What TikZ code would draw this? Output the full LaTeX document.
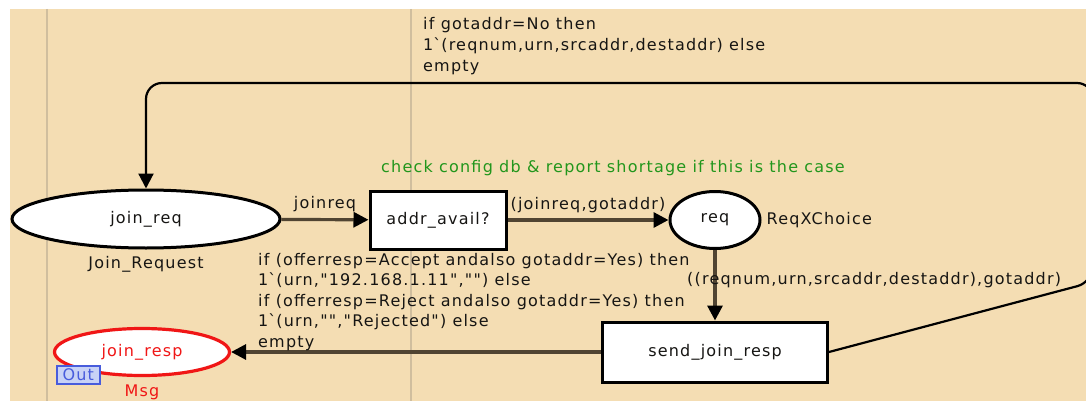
\documentclass[tikz,border=0pt]{standalone}
\usepackage{fontspec}
\newfontfamily\cpnfont{DejaVu Sans}[LetterSpace=7.5]
\usepackage{tikz}
\usetikzlibrary{
  positioning,
  arrows.meta,
  shapes.geometric
}
\definecolor{cpnbg}{RGB}{244,221,179}
\definecolor{cpnrule}{RGB}{208,190,158}
\definecolor{cpnink}{RGB}{22,21,19}
\definecolor{cpnarc}{RGB}{80,68,50}
\definecolor{cpngreen}{RGB}{34,150,28}
\definecolor{cpnred}{RGB}{240,22,22}
\definecolor{cpnblue}{RGB}{72,92,220}
\definecolor{cpnbluefill}{RGB}{200,210,246}

\begin{document}
\begin{tikzpicture}[x=1pt,y=-1pt,
    >={Triangle[length=15pt,width=15pt,color=black]},
    font=\cpnfont\fontsize{16}{21}\selectfont]
  \tikzset{
    place/.style={ellipse,draw=black,line width=3pt,fill=white,
      text=cpnink,inner sep=0pt},
    trans/.style={rectangle,draw=black,line width=3pt,fill=white,
      text=cpnink,inner sep=0pt},
    arc/.style={->,line width=3.2pt,draw=cpnarc},
    inscr/.style={text=cpnink,inner sep=0pt,align=left},
    outtag/.style={draw=cpnblue,fill=cpnbluefill,text=cpnblue,
      line width=1.6pt,inner sep=0pt,minimum width=43pt,minimum height=18pt},
  }
  \useasboundingbox (0,0) rectangle (1086,401);
  \fill[cpnbg] (10,9) rectangle (1086,401);
  \draw[cpnrule,line width=1.2pt] (47,9) -- (47,401);
  \draw[cpnrule,line width=1.2pt] (411,9) -- (411,401);

  \node[place,minimum width=268pt,minimum height=58pt] (joinreq) at (146,219) {join\_req};
  \node[trans,minimum width=136pt,minimum height=58pt] (addravail) at (438,220) {addr\_avail?};
  \node[place,minimum width=90pt,minimum height=57pt] (req) at (715,220) {req};
  \node[trans,minimum width=225pt,minimum height=60pt] (sendjoinresp) at (715,352) {send\_join\_resp};
  \node[place,draw=cpnred,text=cpnred,line width=3.2pt,
    minimum width=175pt,minimum height=47pt] (joinresp) at (142,352) {join\_resp};
  \node[outtag,anchor=north west] (joinrespport) at (56,365) {Out};

  \node[inscr,below=7pt of joinreq] (joinreqtype) {Join\_Request};
  \node[inscr,right=5pt of req] (reqtype) {ReqXChoice};
  \node[inscr,text=cpnred,below=8pt of joinresp] (joinresptype) {Msg};
  \node[inscr,text=cpngreen] (addrcomment) at (613,168)
    {check config db \& report shortage if this is the case};

  \coordinate (se) at (1093,282);
  \coordinate (ne) at (1093,83);
  \coordinate (nw) at (146,83);

  \draw[arc] (joinreq) -- (addravail) node[inscr,midway,above=6pt] {joinreq};
  \draw[arc] (addravail) -- (req) node[inscr,midway,above=6pt] {(joinreq,gotaddr)};
  \draw[arc] (req) -- (sendjoinresp);
  \draw[arc] (sendjoinresp) -- (joinresp);
  \draw[->,line width=2.2pt,black,rounded corners=16pt]
    (sendjoinresp.east) -- (se) -- (ne) -- (nw) -- (joinreq.north);

  \node[inscr,anchor=west] (retarcinscr) at (423,46)
    {if gotaddr=No then\\1\textasciigrave(reqnum,urn,srcaddr,destaddr) else\\empty};
  \node[inscr,anchor=west] (sendarcinscr) at (687,280)
    {((reqnum,urn,srcaddr,destaddr),gotaddr)};
  \node[inscr,anchor=west,font=\cpnfont\fontsize{16}{20.5}\selectfont] (resparcinscr) at (258,302)
    {if (offerresp=Accept andalso gotaddr=Yes) then\\
     1\textasciigrave(urn,"192.168.1.11","") else\\
     if (offerresp=Reject andalso gotaddr=Yes) then\\
     1\textasciigrave(urn,"","Rejected") else\\
     empty};
\end{tikzpicture}
\end{document}
